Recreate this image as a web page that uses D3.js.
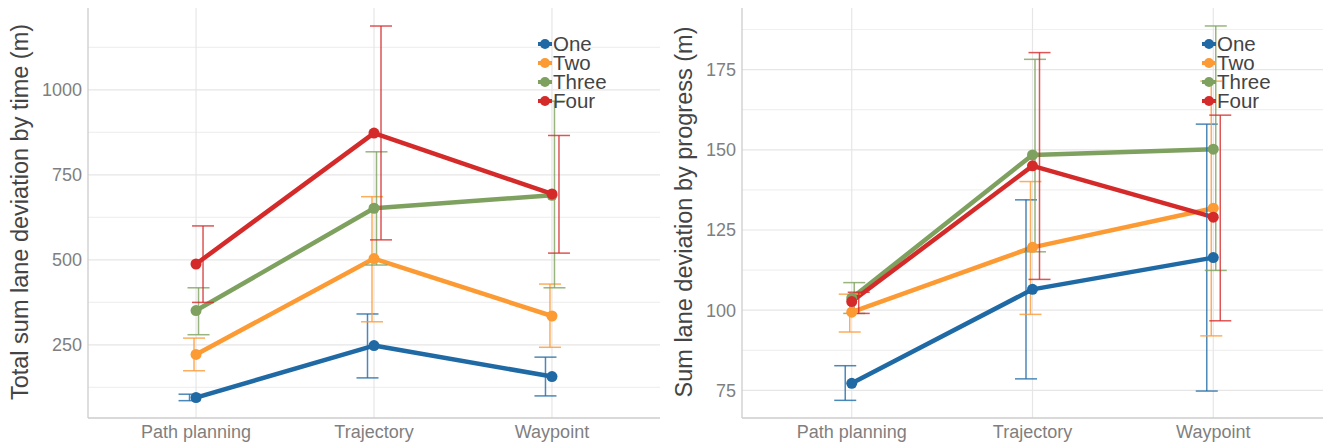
<!DOCTYPE html>
<html>
<head>
<meta charset="utf-8">
<script src="https://cdn.jsdelivr.net/npm/d3@7"></script>
<style>
  body { margin: 0; background: #fff; }
  svg { display: block; font-family: "Liberation Sans", Arial, sans-serif; }
</style>
</head>
<body>
<svg width="1323" height="444"></svg>
<script>
// categories and series
const categories = ["Path planning", "Trajectory", "Waypoint"];
const seriesNames = ["One", "Two", "Three", "Four"];
const seriesColors = ["#1f6aa5", "#fc9a34", "#7ea15f", "#d42a2a"];

// left panel: total sum lane deviation by time (m)
const timeMean = [[95, 248, 157], [222, 504, 335], [351, 652, 690], [488, 873, 694]];
const timeLow  = [[86, 153, 100], [174, 318, 243], [280, 485, 418], [375, 559, 520]];
const timeHigh = [[105, 341, 214], [270, 686, 429], [418, 818, 967], [600, 1188, 866]];
const timeTicks = [250, 500, 750, 1000];

// right panel: sum lane deviation by progress (m)
const progMean = [[77.2, 106.5, 116.4], [99.4, 119.6, 131.8], [103.8, 148.4, 150.2], [102.7, 145.0, 129.0]];
const progLow  = [[71.9, 78.6, 74.8], [93.2, 98.7, 92.0], [99.0, 118.2, 112.4], [99.0, 109.6, 96.7]];
const progHigh = [[82.7, 134.4, 158.0], [105.0, 140.1, 171.4], [108.6, 178.2, 188.6], [105.6, 180.3, 160.8]];
const progTicks = [75, 100, 125, 150, 175];

const svg = d3.select("svg");
const dodge = [-6.5, -2, 2.5, 7];

function panel(opts) {
  const g = svg.append("g");
  const x = d3.scalePoint().domain(categories).range([opts.x0, opts.x1]).padding(0.607);
  const y = d3.scaleLinear().domain(opts.domain).range([418, 8]);

  // minor grid
  const step = opts.ticks[1] - opts.ticks[0];
  const minor = d3.range(opts.ticks[0] - step / 2, opts.domain[1], step)
    .filter(v => v > opts.domain[0]);
  g.selectAll("line.minor").data(minor).enter().append("line")
    .attr("x1", opts.x0).attr("x2", opts.x1)
    .attr("y1", d => y(d)).attr("y2", d => y(d))
    .attr("stroke", "#f0f0f0").attr("stroke-width", 1.2);
  // major grid
  g.selectAll("line.major").data(opts.ticks).enter().append("line")
    .attr("x1", opts.x0).attr("x2", opts.x1)
    .attr("y1", d => y(d)).attr("y2", d => y(d))
    .attr("stroke", "#e6e6e6").attr("stroke-width", 1.2);
  g.selectAll("line.vgrid").data(categories).enter().append("line")
    .attr("x1", d => x(d)).attr("x2", d => x(d))
    .attr("y1", 8).attr("y2", 418)
    .attr("stroke", "#e6e6e6").attr("stroke-width", 1.2);

  // axes lines
  g.append("line").attr("x1", opts.x0).attr("x2", opts.x0).attr("y1", 8).attr("y2", 418)
    .attr("stroke", "#cccccc").attr("stroke-width", 1.3);
  g.append("line").attr("x1", opts.x0).attr("x2", opts.x1).attr("y1", 418).attr("y2", 418)
    .attr("stroke", "#cccccc").attr("stroke-width", 1.3);

  // tick labels
  g.selectAll("text.ytick").data(opts.ticks).enter().append("text")
    .attr("x", opts.x0 - 6).attr("y", d => y(d)).attr("dy", "0.35em")
    .attr("text-anchor", "end").attr("font-size", 18).attr("fill", "#7f7f7f")
    .text(d => d);
  g.selectAll("text.xtick").data(categories).enter().append("text")
    .attr("x", d => x(d)).attr("y", 438)
    .attr("text-anchor", "middle").attr("font-size", 18).attr("fill", "#7f7f7f")
    .text(d => d);

  // axis title
  g.append("text")
    .attr("transform", "translate(" + opts.titleX + "," + 212 + ") rotate(-90)")
    .attr("text-anchor", "middle").attr("dy", "0.35em")
    .attr("font-size", 23.5).attr("fill", "#444")
    .text(opts.title);

  const line = d3.line().x((d, i) => x(categories[i])).y(d => y(d));

  seriesNames.forEach((s, k) => {
    const c = seriesColors[k];
    g.append("path").datum(opts.mean[k])
      .attr("d", line).attr("fill", "none")
      .attr("stroke", c).attr("stroke-width", 4.5).attr("stroke-linejoin", "round");
  });

  seriesNames.forEach((s, k) => {
    const c = seriesColors[k];
    const eb = g.append("g").attr("stroke", c).attr("stroke-width", 1.5).attr("stroke-opacity", 0.8);
    categories.forEach((cat, i) => {
      const cx = x(cat) + dodge[k];
      eb.append("line").attr("x1", cx).attr("x2", cx)
        .attr("y1", y(opts.low[k][i])).attr("y2", y(opts.high[k][i]));
      [opts.low[k][i], opts.high[k][i]].forEach(v => {
        eb.append("line").attr("x1", cx - 11).attr("x2", cx + 11)
          .attr("y1", y(v)).attr("y2", y(v));
      });
    });
  });

  seriesNames.forEach((s, k) => {
    g.selectAll(null).data(opts.mean[k]).enter().append("circle")
      .attr("cx", (d, i) => x(categories[i])).attr("cy", d => y(d))
      .attr("r", 5.5).attr("fill", seriesColors[k]);
  });

  // legend
  const lg = g.append("g").attr("transform", "translate(" + opts.legendX + ",44)");
  seriesNames.forEach((s, k) => {
    const row = lg.append("g").attr("transform", "translate(0," + (k * 19) + ")");
    row.append("line").attr("x1", -7).attr("x2", 7).attr("y1", 0).attr("y2", 0)
      .attr("stroke", seriesColors[k]).attr("stroke-width", 4);
    row.append("circle").attr("r", 5).attr("fill", seriesColors[k]);
    row.append("text").attr("x", 8).attr("y", 0).attr("dy", "0.36em")
      .attr("font-size", 20.5).attr("fill", "#444").text(s);
  });
}

panel({
  x0: 88, x1: 660, domain: [35, 1241], ticks: timeTicks,
  mean: timeMean, low: timeLow, high: timeHigh,
  title: "Total sum lane deviation by time (m)", legendX: 545, titleX: 20
});
panel({
  x0: 742, x1: 1323, domain: [66.4, 194.2], ticks: progTicks,
  mean: progMean, low: progLow, high: progHigh,
  title: "Sum lane deviation by progress (m)", legendX: 1209, titleX: 684
});
</script>
</body>
</html>
